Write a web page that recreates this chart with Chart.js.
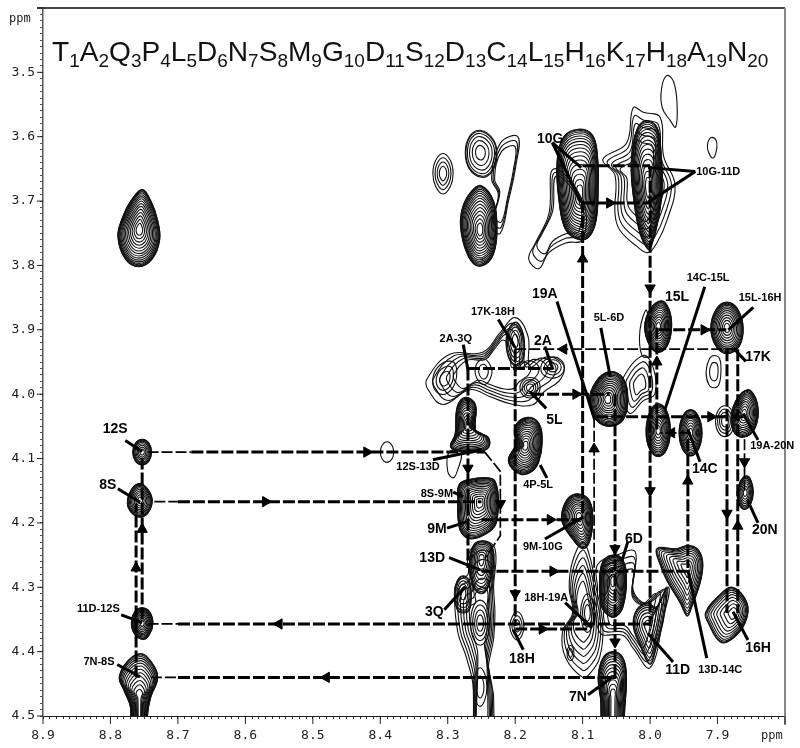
<!DOCTYPE html>
<html>
<head>
<meta charset="utf-8">
<style>body { margin: 0; background: #fff; }</style>
<script src="https://cdn.jsdelivr.net/npm/chart.js@4"></script>
</head>
<body>
<canvas id="noesy" width="800" height="748"></canvas>
<script>
// sequence shown above the spectrum
const residues = ['T','A','Q','P','L','D','N','S','M','G','D','S','D','C','L','H','K','H','A','N'];

// axis ranges in ppm
const xRange = [7.8, 8.9];
const yRange = [3.4, 4.5];

// peaks: centre x, centre y, number of levels, outer outline (x,y pairs in ppm)
const contours = [
  [8.757,3.744,16,[8.753,3.682,8.74,3.70,8.73,3.73,8.727,3.76,8.738,3.79,8.758,3.802,8.778,3.79,8.789,3.755,8.782,3.725,8.77,3.70]],
  [8.307,3.657,4,[8.307,3.626,8.296,3.637,8.292,3.657,8.296,3.677,8.307,3.689,8.318,3.677,8.322,3.657,8.318,3.637]],
  [8.252,3.624,6,[8.252,3.590,8.232,3.605,8.227,3.63,8.235,3.655,8.25,3.663,8.268,3.65,8.274,3.625,8.268,3.60]],
  [8.252,3.745,16,[8.25,3.676,8.232,3.70,8.227,3.74,8.23,3.775,8.24,3.795,8.258,3.80,8.272,3.78,8.281,3.74,8.278,3.71,8.265,3.685]],
  [8.104,3.69,18,[8.104,3.588,8.085,3.598,8.078,3.63,8.077,3.68,8.08,3.73,8.09,3.755,8.105,3.76,8.125,3.745,8.135,3.70,8.138,3.64,8.128,3.60]],
  [8.003,3.68,16,[8.006,3.575,7.99,3.585,7.984,3.62,7.982,3.68,7.988,3.73,7.998,3.77,8.003,3.775,8.015,3.75,8.024,3.70,8.028,3.64,8.02,3.59]],
  [7.97,3.54,1,[7.975,3.505,7.965,3.515,7.96,3.55,7.962,3.585,7.97,3.575,7.982,3.555,7.983,3.525]],
  [7.908,3.617,1,[7.908,3.601,7.902,3.606,7.901,3.617,7.904,3.63,7.908,3.633,7.913,3.625,7.915,3.615,7.913,3.605]],
  [8.304,3.977,3,[8.294,3.949,8.287,3.96,8.29,3.985,8.304,4.0,8.318,3.995,8.322,3.975,8.312,3.955]],
  [8.247,3.965,2,[8.247,3.945,8.237,3.955,8.235,3.97,8.245,3.985,8.257,3.975,8.258,3.955]],
  [8.20,3.915,6,[8.20,3.888,8.19,3.90,8.186,3.925,8.19,3.95,8.202,3.955,8.212,3.935,8.212,3.905]],
  [8.144,3.958,3,[8.144,3.942,8.132,3.947,8.127,3.958,8.132,3.97,8.144,3.975,8.158,3.97,8.162,3.958,8.156,3.947]],
  [8.178,3.99,4,[8.178,3.974,8.167,3.978,8.163,3.99,8.168,4.002,8.178,4.006,8.188,4.002,8.193,3.99,8.188,3.978]],
  [8.27,4.05,14,[8.274,4.005,8.259,4.016,8.258,4.058,8.24,4.067,8.239,4.082,8.252,4.089,8.281,4.089,8.296,4.082,8.289,4.062,8.286,4.02]],
  [8.291,4.11,1,[8.298,4.09,8.28,4.09,8.286,4.12,8.292,4.13,8.30,4.12]],
  [8.185,4.08,16,[8.182,4.036,8.165,4.045,8.16,4.075,8.165,4.105,8.175,4.12,8.19,4.125,8.205,4.115,8.21,4.10,8.20,4.08,8.2,4.05]],
  [8.39,4.09,1,[8.39,4.074,8.383,4.079,8.38,4.09,8.383,4.101,8.39,4.106,8.397,4.101,8.40,4.09,8.397,4.079]],
  [8.753,4.09,9,[8.753,4.070,8.743,4.076,8.739,4.09,8.743,4.104,8.753,4.110,8.763,4.104,8.767,4.09,8.763,4.076]],
  [8.756,4.165,11,[8.758,4.139,8.745,4.147,8.738,4.165,8.744,4.184,8.756,4.191,8.769,4.184,8.775,4.17,8.770,4.15]],
  [8.753,4.356,12,[8.753,4.332,8.742,4.338,8.737,4.356,8.742,4.373,8.751,4.381,8.764,4.373,8.769,4.356,8.764,4.338]],
  [8.757,4.47,14,[8.755,4.403,8.74,4.415,8.73,4.44,8.74,4.47,8.745,4.50,8.75,4.9,8.765,4.9,8.77,4.49,8.78,4.46,8.787,4.44,8.775,4.415]],
  [8.252,4.168,16,[8.283,4.14,8.265,4.132,8.24,4.13,8.23,4.135,8.225,4.16,8.228,4.20,8.24,4.215,8.265,4.225,8.28,4.215,8.285,4.19,8.285,4.165]],
  [8.25,4.255,10,[8.25,4.228,8.235,4.235,8.232,4.265,8.24,4.30,8.25,4.31,8.262,4.30,8.268,4.265,8.262,4.235]],
  [8.277,4.31,6,[8.277,4.282,8.268,4.29,8.265,4.31,8.268,4.335,8.277,4.34,8.286,4.335,8.29,4.31,8.286,4.29]],
  [8.252,4.356,4,[8.252,4.32,8.242,4.33,8.238,4.356,8.242,4.38,8.252,4.39,8.262,4.38,8.266,4.356,8.262,4.33]],
  [8.252,4.455,2,[8.252,4.425,8.245,4.435,8.242,4.455,8.245,4.475,8.252,4.485,8.259,4.475,8.262,4.455,8.259,4.435]],
  [8.197,4.36,3,[8.197,4.338,8.19,4.345,8.187,4.36,8.19,4.375,8.197,4.382,8.204,4.375,8.208,4.36,8.204,4.345]],
  [8.105,4.19,14,[8.105,4.155,8.09,4.165,8.085,4.195,8.09,4.23,8.10,4.24,8.115,4.225,8.13,4.20,8.13,4.18,8.12,4.16]],
  [8.093,4.34,3,[8.093,4.31,8.086,4.32,8.083,4.34,8.086,4.36,8.093,4.37,8.10,4.36,8.103,4.34,8.10,4.32]],
  [8.118,4.402,2,[8.118,4.39,8.114,4.395,8.113,4.402,8.114,4.41,8.118,4.414,8.122,4.41,8.123,4.402,8.122,4.395]],
  [8.055,4.47,14,[8.055,4.40,8.04,4.41,8.035,4.44,8.038,4.50,8.045,4.9,8.07,4.9,8.073,4.48,8.077,4.44,8.07,4.41]],
  [8.055,4.29,15,[8.055,4.25,8.04,4.258,8.035,4.29,8.04,4.33,8.05,4.345,8.06,4.345,8.072,4.33,8.075,4.29,8.07,4.26]],
  [8.003,4.36,8,[7.99,4.33,7.975,4.30,7.98,4.35,7.99,4.39,8.0,4.42,8.015,4.39,8.025,4.36,8.02,4.335,8.005,4.325]],
  [7.945,4.27,11,[7.99,4.24,7.96,4.24,7.945,4.235,7.93,4.24,7.922,4.26,7.925,4.29,7.938,4.33,7.945,4.345,7.955,4.325,7.975,4.29,7.985,4.265]],
  [7.875,4.34,10,[7.878,4.30,7.856,4.325,7.859,4.355,7.878,4.38,7.896,4.385,7.914,4.355,7.918,4.34,7.90,4.315]],
  [7.859,4.153,9,[7.857,4.127,7.850,4.135,7.847,4.153,7.851,4.171,7.86,4.179,7.868,4.171,7.871,4.153,7.866,4.135]],
  [7.861,4.03,13,[7.856,3.993,7.841,4.014,7.844,4.052,7.862,4.067,7.877,4.056,7.877,4.02]],
  [7.889,4.042,4,[7.889,4.018,7.879,4.025,7.875,4.042,7.879,4.059,7.889,4.066,7.899,4.059,7.903,4.042,7.899,4.025]],
  [7.94,4.06,12,[7.94,4.024,7.928,4.035,7.923,4.06,7.928,4.085,7.94,4.096,7.952,4.085,7.957,4.06,7.952,4.035]],
  [7.988,4.056,13,[7.988,4.015,7.975,4.027,7.97,4.056,7.975,4.085,7.988,4.097,8.001,4.085,8.006,4.056,8.0,4.027]],
  [7.988,3.895,14,[7.983,3.855,7.972,3.868,7.968,3.895,7.974,3.924,7.988,3.935,8.001,3.924,8.008,3.895,8.0,3.868]],
  [8.008,3.91,1,[8.005,3.87,8.0,3.94,8.012,3.94,8.015,3.90]],
  [7.886,3.897,13,[7.886,3.857,7.87,3.868,7.862,3.897,7.868,3.926,7.886,3.937,7.902,3.926,7.91,3.897,7.902,3.868]],
  [7.905,3.965,2,[7.905,3.94,7.897,3.945,7.895,3.965,7.898,3.985,7.905,3.99,7.913,3.985,7.917,3.965,7.912,3.945]],
  [8.063,4.008,16,[8.06,3.965,8.04,3.975,8.033,4.01,8.04,4.04,8.06,4.05,8.08,4.04,8.09,4.01,8.08,3.98]],
  [8.015,3.985,4,[8.04,3.975,8.01,3.94,7.995,3.96,7.993,4.0,8.01,4.01,8.03,4.03,8.04,4.0]]
];

// wide low-level envelopes around the peaks, same layout as contours
const envelopes = [
  [8.215,3.67,3,[8.222,3.61,8.196,3.60,8.199,3.645,8.21,3.70,8.222,3.75,8.235,3.74,8.225,3.69,8.235,3.665]],
  [8.125,3.70,3,[8.143,3.65,8.15,3.72,8.17,3.765,8.18,3.79,8.165,3.805,8.15,3.78,8.125,3.765,8.10,3.76,8.10,3.70]],
  [8.012,3.67,5,[8.025,3.555,8.01,3.562,7.985,3.57,7.98,3.63,7.963,3.675,7.975,3.73,7.99,3.765,8.003,3.78,8.02,3.77,8.045,3.745,8.052,3.72,8.052,3.66,8.07,3.635,8.035,3.61]],
  [8.24,3.96,5,[8.331,3.977,8.297,3.938,8.248,3.935,8.222,3.904,8.20,3.881,8.181,3.91,8.178,3.957,8.153,3.942,8.129,3.954,8.133,3.977,8.158,3.997,8.173,4.016,8.203,4.016,8.237,4.004,8.267,3.993,8.307,4.016,8.329,3.993]],
  [8.25,4.36,6,[8.25,4.228,8.23,4.24,8.232,4.30,8.23,4.34,8.232,4.38,8.24,4.43,8.232,4.47,8.235,4.8,8.265,4.8,8.262,4.46,8.272,4.41,8.285,4.37,8.29,4.31,8.285,4.29,8.27,4.28,8.27,4.25]],
  [8.10,4.34,6,[8.10,4.23,8.09,4.25,8.08,4.30,8.07,4.36,8.075,4.41,8.09,4.435,8.10,4.44,8.125,4.41,8.13,4.37,8.115,4.34,8.12,4.30,8.115,4.26]],
  [8.03,4.33,4,[8.022,4.245,8.025,4.305,8.004,4.325,7.973,4.30,7.98,4.345,8.0,4.425,8.025,4.395,8.04,4.375,8.075,4.37,8.078,4.30,8.078,4.265,8.05,4.25]]
];

// heavy walk lines: x,y,x,y... in ppm
const heavyPaths = [
  [8.68,4.09,8.245,4.09],
  [8.70,4.167,8.25,4.167],
  [8.70,4.357,8.0,4.357],
  [8.70,4.44,8.05,4.44],
  [8.25,4.195,8.105,4.195],
  [8.25,4.275,7.945,4.275],
  [8.2,4.365,8.09,4.365],
  [8.10,3.703,8.0,3.703],
  [8.10,3.645,8.0,3.645],
  [8.27,3.96,8.145,3.96],
  [8.175,4.0,8.06,4.0],
  [7.988,3.9,7.887,3.9],
  [8.08,4.035,7.86,4.035],
  [8.762,4.44,8.762,4.17],
  [8.753,4.35,8.753,4.10],
  [8.27,3.96,8.27,4.27],
  [8.2,3.93,8.2,4.36],
  [8.10,3.70,8.10,4.19],
  [8.052,4.0,8.052,4.44],
  [8.0,3.645,8.0,4.36],
  [7.99,4.055,7.99,3.895],
  [7.944,4.07,7.944,4.27],
  [7.886,3.93,7.886,4.34],
  [7.87,3.93,7.87,4.34]
];

// thin walk lines
const thinPaths = [
  [8.745,4.09,8.68,4.09],
  [8.735,4.167,8.70,4.167],
  [8.745,4.357,8.70,4.357],
  [8.74,4.44,8.70,4.44],
  [8.2,3.93,7.875,3.93],
  [8.245,4.09,8.222,4.12,8.222,4.22,8.245,4.255],
  [8.083,4.035,8.083,4.36],
  [7.86,4.07,7.86,4.15],
  [7.94,4.06,7.985,4.06]
];

// arrow heads on the walk: x, y, direction in degrees (0 up, 90 right, 180 down, 270 left)
const arrows = [
  [8.42,4.09,90],[8.57,4.167,90],[8.55,4.357,270],[8.48,4.44,270],
  [8.148,4.195,90],[8.144,4.275,90],[8.16,4.365,90],[8.06,3.703,90],
  [8.128,3.93,270],[8.11,4.0,90],[7.92,3.9,90],[7.91,4.035,90],[7.968,4.06,270],
  [8.762,4.27,0],[8.753,4.21,0],[8.27,4.115,180],[8.222,4.17,180],[8.2,4.31,180],
  [8.10,3.79,0],[8.083,4.085,0],[8.052,4.24,180],[8.052,4.385,180],
  [8.0,3.835,180],[8.0,4.15,180],[7.99,3.95,0],[7.944,4.135,0],
  [7.886,4.185,180],[7.87,4.205,0],[7.86,4.105,180]
];

// leader lines from a label to its peak
const leaders = [
  [8.145,3.609,8.102,3.648],[8.145,3.609,8.102,3.702],
  [7.933,3.654,8.003,3.648],[7.933,3.654,8.003,3.702],
  [8.138,3.856,8.082,4.040],[7.919,3.833,7.978,4.024],
  [7.847,3.865,7.884,3.900],[7.858,3.949,7.877,3.928],
  [8.225,3.884,8.200,3.928],[8.277,3.923,8.270,3.962],
  [8.156,3.926,8.144,3.962],[8.154,4.022,8.178,3.996],
  [8.073,3.897,8.059,3.973],[8.778,4.072,8.753,4.089],
  [8.789,4.147,8.756,4.168],[8.322,4.102,8.249,4.086],
  [8.153,4.130,8.163,4.110],[8.292,4.152,8.277,4.159],
  [8.301,4.208,8.271,4.198],[8.156,4.225,8.099,4.191],
  [8.298,4.254,8.252,4.273],[8.305,4.335,8.274,4.299],
  [8.126,4.324,8.086,4.363],[8.188,4.397,8.203,4.366],
  [8.092,4.467,8.055,4.439],[7.966,4.416,8.003,4.372],
  [7.916,4.410,7.944,4.273],[7.855,4.382,7.877,4.338],
  [7.84,4.200,7.856,4.164],[8.033,4.229,8.042,4.260],
  [7.926,4.105,7.944,4.055],[7.84,4.071,7.862,4.030],
  [8.784,4.343,8.753,4.355],[8.79,4.420,8.756,4.439]
];

// peak assignments: big labels then small ones, text, x, y in ppm
const bigLabels = [
  ['10G',8.148,3.603],['19A',8.156,3.844],['15L',7.96,3.85],['2A',8.159,3.917],['17K',7.84,3.943],
  ['5L',8.142,4.04],['12S',8.793,4.055],['8S',8.804,4.141],['9M',8.316,4.209],['13D',8.323,4.254],
  ['3Q',8.32,4.338],['18H',8.19,4.411],['7N',8.107,4.47],['11D',7.959,4.428],['16H',7.84,4.394],
  ['20N',7.83,4.212],['6D',8.024,4.225],['14C',7.919,4.116]
];
const smallLabels = [
  ['10G-11D',7.899,3.654],['14C-15L',7.914,3.82],['15L-16H',7.837,3.85],['17K-18H',8.233,3.873],
  ['2A-3Q',8.288,3.914],['5L-6D',8.061,3.881],['12S-13D',8.344,4.113],['4P-5L',8.166,4.141],
  ['8S-9M',8.316,4.155],['9M-10G',8.159,4.237],['18H-19A',8.154,4.316],['13D-14C',7.896,4.428],
  ['19A-20N',7.819,4.081],['11D-12S',8.818,4.334],['7N-8S',8.817,4.416]
];

// one contour level of a peak: outline pulled toward the centre by factor f.
// the ends wrap round so the spline stays smooth where the loop closes
function levelPoints(row, f) {
  const [cx, cy, , pts] = row;
  const ring = [];
  for (let i = 0; i < pts.length; i += 2) {
    ring.push({x: cx + (pts[i] - cx) * f, y: cy + (pts[i + 1] - cy) * f});
  }
  return [ring[ring.length - 1], ...ring, ring[0], ring[1]];
}

function toPoints(path) {
  const out = [];
  for (let i = 0; i < path.length; i += 2) out.push({x: path[i], y: path[i + 1]});
  return out;
}

function contourSet(points, order) {
  const last = points.length - 2;
  return {
    data: points,
    showLine: true,
    tension: 0.4,
    borderColor: '#111',
    borderWidth: 1.1,
    pointRadius: 0,
    order: order,
    // hide the two wrap-round spans
    segment: {borderColor: ctx => (ctx.p0DataIndex === 0 || ctx.p0DataIndex === last) ? 'rgba(0,0,0,0)' : undefined}
  };
}

const datasets = [];
contours.forEach(row => {
  const n = row[2];
  for (let l = 0; l < n; l++) {
    const t = l / n;
    const f = n > 5 ? 1 - Math.pow(t, 1.7) * 0.94 : 1 - t * 0.85;
    datasets.push(contourSet(levelPoints(row, f), 4));
  }
});
envelopes.forEach(row => {
  for (let l = 0; l < row[2]; l++) datasets.push(contourSet(levelPoints(row, 1 - l * 0.11), 5));
});
heavyPaths.forEach(p => datasets.push({data: toPoints(p), showLine: true, borderColor: '#000', borderWidth: 3, borderDash: [12, 3], pointRadius: 0, order: 3}));
thinPaths.forEach(p => datasets.push({data: toPoints(p), showLine: true, borderColor: '#000', borderWidth: 1.7, borderDash: [11, 3], pointRadius: 0, order: 3}));
leaders.forEach(p => datasets.push({data: toPoints(p), showLine: true, borderColor: '#000', borderWidth: 3, pointRadius: 0, order: 2}));
datasets.push({
  data: arrows.map(a => ({x: a[0], y: a[1]})),
  showLine: false,
  pointStyle: 'triangle',
  pointRadius: 6,
  pointRotation: arrows.map(a => a[2]),
  backgroundColor: '#000',
  borderColor: '#000',
  order: 1
});

// frame, long ticks and all the texts
const extras = {
  id: 'extras',
  afterDraw(chart) {
    const c = chart.ctx, a = chart.chartArea, sx = chart.scales.x, sy = chart.scales.y;
    c.save();
    c.strokeStyle = '#444';
    c.lineWidth = 2;
    c.beginPath(); c.moveTo(37, a.top); c.lineTo(a.right, a.top); c.stroke();
    c.strokeStyle = '#888';
    c.beginPath(); c.moveTo(a.right, a.top); c.lineTo(a.right, a.bottom + 9); c.stroke();

    c.strokeStyle = '#222';
    c.lineWidth = 1;
    sx.ticks.forEach(t => {
      if (Math.round(t.value * 100) % 10 !== 0) return;
      const p = sx.getPixelForValue(t.value);
      c.beginPath(); c.moveTo(p, a.bottom); c.lineTo(p, a.bottom + 8); c.stroke();
    });
    sy.ticks.forEach(t => {
      if (Math.round(t.value * 100) % 10 !== 0) return;
      const p = sy.getPixelForValue(t.value);
      c.beginPath(); c.moveTo(a.left, p); c.lineTo(a.left - 6, p); c.stroke();
    });

    // sequence with subscripts
    c.fillStyle = '#111';
    c.textAlign = 'left';
    c.textBaseline = 'alphabetic';
    let tx = 52;
    residues.forEach((r, i) => {
      c.font = '28.1px "Liberation Sans"';
      c.fillText(r, tx, 61);
      tx += c.measureText(r).width;
      c.font = '19px "Liberation Sans"';
      c.fillText(String(i + 1), tx, 67);
      tx += c.measureText(String(i + 1)).width;
    });

    c.font = '12px "DejaVu Sans Mono"';
    c.textAlign = 'left';
    c.fillStyle = '#222';
    c.fillText('ppm', 9, 22);
    c.fillText('ppm', 761, 739);

    c.fillStyle = '#000';
    c.textAlign = 'center';
    c.textBaseline = 'middle';
    c.font = 'bold 14px "Liberation Sans"';
    bigLabels.forEach(l => c.fillText(l[0], sx.getPixelForValue(l[1]), sy.getPixelForValue(l[2])));
    c.font = 'bold 11px "Liberation Sans"';
    smallLabels.forEach(l => c.fillText(l[0], sx.getPixelForValue(l[1]), sy.getPixelForValue(l[2])));
    c.restore();
  }
};

function tickLabel(value) {
  if (Math.round(value * 100) % 10 !== 0) return '';
  return Number(value).toFixed(1);
}

new Chart(document.getElementById('noesy'), {
  type: 'scatter',
  data: {datasets: datasets},
  plugins: [extras],
  options: {
    responsive: false,
    animation: false,
    events: [],
    layout: {padding: {top: 8, right: 15, left: 0, bottom: 0}},
    elements: {line: {capBezierPoints: false}},
    plugins: {legend: {display: false}, tooltip: {enabled: false}},
    scales: {
      x: {
        type: 'linear',
        reverse: true,
        min: xRange[0],
        max: xRange[1],
        afterFit: s => { s.height = 32; },
        border: {color: '#222', width: 1},
        grid: {drawOnChartArea: false, tickLength: 3, tickColor: '#333'},
        ticks: {
          stepSize: 0.01,
          autoSkip: false,
          maxRotation: 0,
          padding: 9,
          color: '#222',
          font: {family: '"DejaVu Sans Mono"', size: 13},
          callback: v => v < 7.85 ? '' : tickLabel(v)
        }
      },
      y: {
        type: 'linear',
        reverse: true,
        min: yRange[0],
        max: yRange[1],
        afterFit: s => { s.width = 43; s.paddingTop = 0; s.paddingBottom = 0; },
        border: {color: '#555', width: 1.5},
        grid: {drawOnChartArea: false, tickLength: 3, tickColor: '#555'},
        ticks: {
          stepSize: 0.01,
          autoSkip: false,
          padding: 5,
          color: '#222',
          font: {family: '"DejaVu Sans Mono"', size: 13},
          callback: v => v < 3.45 ? '' : tickLabel(v)
        }
      }
    }
  }
});
</script>
</body>
</html>
